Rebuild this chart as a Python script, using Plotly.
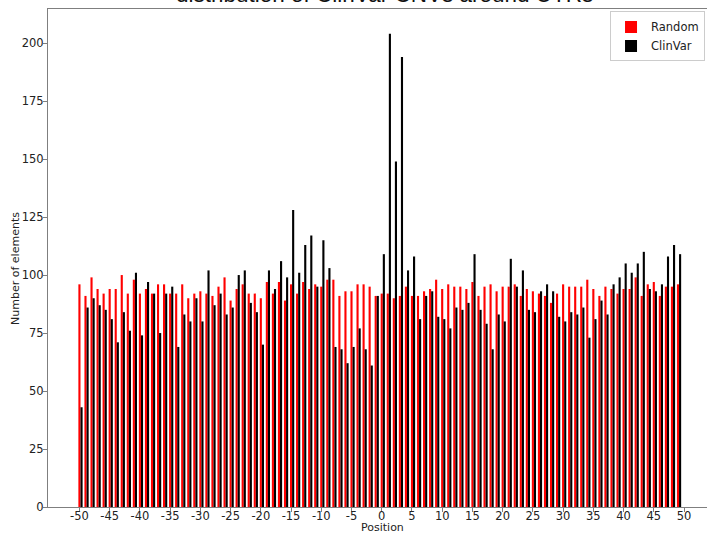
import plotly.graph_objects as go

positions = list(range(-50, 50))

random_counts = [
    96, 91, 99, 94, 92, 94, 94, 100, 92, 98, 92, 94, 92, 96, 96, 92, 92,
    96, 90, 92, 93, 92, 91, 95, 99, 89, 94, 96, 92, 92, 90, 97, 92, 97,
    89, 96, 92, 97, 94, 96, 95, 98, 98, 91, 93, 93, 96, 96, 95, 91, 92,
    92, 90, 91, 95, 91, 91, 93, 94, 98, 94, 96, 95, 95, 94, 97, 91, 95,
    96, 93, 95, 95, 96, 91, 94, 93, 92, 91, 88, 92, 96, 95, 95, 95, 98,
    94, 91, 95, 94, 92, 94, 94, 99, 91, 96, 97, 91, 95, 95, 96,
]

clinvar_counts = [
    43, 86, 90, 87, 85, 81, 71, 84, 76, 101, 74, 97, 92, 75, 92, 95, 69,
    83, 80, 90, 80, 102, 87, 92, 83, 86, 100, 102, 88, 84, 70, 102, 94, 106,
    99, 128, 101, 113, 117, 95, 115, 103, 69, 68, 62, 69, 77, 68, 61, 91, 109,
    204, 149, 194, 102, 108, 81, 91, 93, 82, 81, 77, 86, 85, 88, 109, 85, 79,
    68, 83, 80, 107, 95, 102, 85, 84, 93, 96, 93, 82, 80, 84, 83, 86, 73,
    81, 89, 83, 96, 99, 105, 101, 105, 110, 94, 93, 96, 108, 113, 109,
]

x_ticks = list(range(-50, 51, 5))
y_ticks = list(range(0, 201, 25))

bar_w = 0.35
font = "DejaVu Sans"
title_font = "Liberation Sans"
axis_col = "#7f7f7f"
text_col = "#222"

fig = go.Figure()
fig.add_trace(go.Bar(
    x=positions, y=random_counts, name="Random",
    marker=dict(color="#ff0000", line=dict(width=0)),
    width=bar_w, offset=-bar_w / 2,
))
fig.add_trace(go.Bar(
    x=positions, y=clinvar_counts, name="ClinVar",
    marker=dict(color="#000000", line=dict(width=0)),
    width=bar_w, offset=bar_w / 2,
))

# title (partly cut off by the top edge, as in the reference)
fig.add_annotation(
    text="distribution of ClinVar CNVs around UTRs",
    xref="paper", yref="paper", x=0.511, y=1.0,
    xanchor="center", yanchor="bottom", showarrow=False, yshift=0,
    font=dict(family=title_font, size=22.5, color="#111"),
)
# axis titles
fig.add_annotation(
    text="Position", xref="paper", yref="paper", x=0.508, y=-0.042,
    xanchor="center", yanchor="middle", showarrow=False,
    font=dict(family=font, size=11, color=text_col),
)
fig.add_annotation(
    text="Number of elements", xref="paper", yref="paper", x=-0.0486, y=0.48,
    xanchor="center", yanchor="middle", textangle=-90, showarrow=False,
    font=dict(family=font, size=11, color=text_col),
)

fig.update_layout(
    width=707, height=533,
    margin=dict(l=48, r=0, t=9, b=26, autoexpand=False),
    paper_bgcolor="white", plot_bgcolor="white",
    barmode="overlay",
    font=dict(family=font, size=11, color=text_col),
    showlegend=True,
    legend=dict(
        x=0.997, y=0.995, xanchor="right", yanchor="top",
        bgcolor="white", bordercolor="#cccccc", borderwidth=1,
        font=dict(family=font, size=11.5, color=text_col),
        traceorder="normal", itemwidth=30,
    ),
    xaxis=dict(
        range=[-55.2, 53.8], tickvals=x_ticks, ticktext=[str(t) for t in x_ticks],
        showgrid=False, zeroline=False, automargin=False,
        showline=True, linecolor=axis_col, linewidth=1, mirror=True,
        ticks="outside", ticklen=4, tickcolor=axis_col, ticklabelstandoff=-6,
        tickfont=dict(family=font, size=11.5, color=text_col),
    ),
    yaxis=dict(
        range=[0, 214.7], tickvals=y_ticks,
        showgrid=False, zeroline=False, automargin=False,
        showline=True, linecolor=axis_col, linewidth=1, mirror=True,
        ticks="outside", ticklen=4, tickcolor=axis_col, ticklabelstandoff=-3,
        tickfont=dict(family=font, size=11.5, color=text_col),
    ),
)

fig.write_html(
    "out.html",
    config={"displayModeBar": False},
    post_script="document.body.style.margin='0';document.body.style.overflow='hidden';",
)
